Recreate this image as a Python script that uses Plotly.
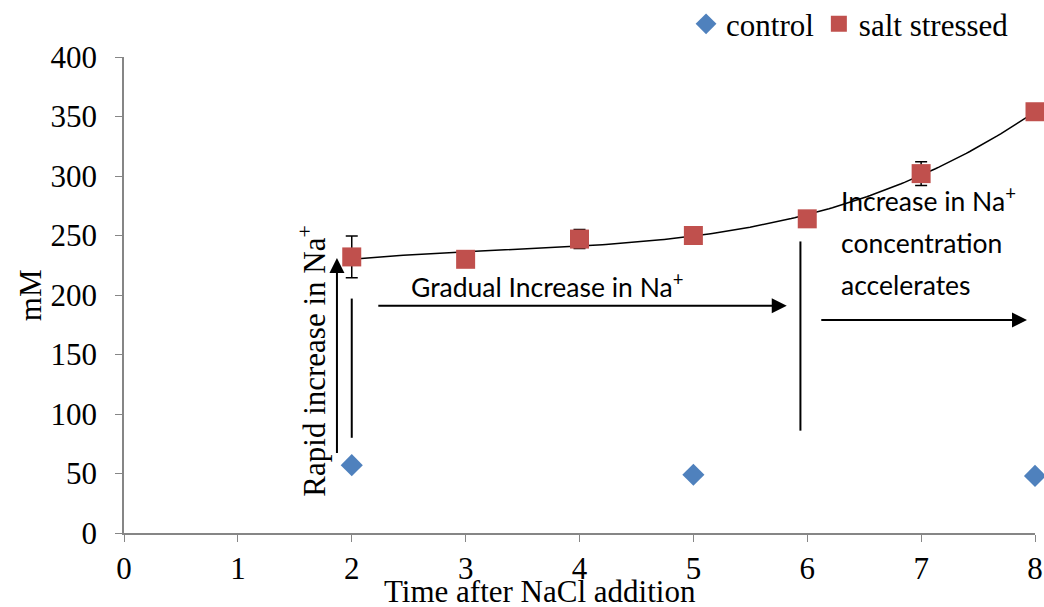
import numpy as np
import plotly.graph_objects as go

# Sodium concentration (mM) after NaCl addition
days_control = [2, 5, 8]
control_mM = [57, 49, 48]
control_err = [3, 2, 1]

days_salt = [2, 3, 4, 5, 6, 7, 8]
salt_mM = [232, 230, 247, 250, 264, 302, 354]
salt_err = [17.5, 1, 8, 2, 2, 10, 2]

x_ticks = [0, 1, 2, 3, 4, 5, 6, 7, 8]
y_ticks = [0, 50, 100, 150, 200, 250, 300, 350, 400]

SERIF = "Liberation Serif"
SANS = "Lato"
BLUE = "#4F81BD"
RED = "#C0504D"
AXIS_GREY = "#868686"

# third-order polynomial trend through the salt-stressed series
coef = np.polyfit(days_salt, salt_mM, 3)
trend_x = np.linspace(min(days_salt), max(days_salt), 200)
trend_y = np.polyval(coef, trend_x)

fig = go.Figure()

fig.add_trace(go.Scatter(
    x=trend_x, y=trend_y, mode="lines",
    line=dict(color="black", width=1.5),
    showlegend=False, hoverinfo="skip",
))

fig.add_trace(go.Scatter(
    x=days_control, y=control_mM, mode="markers", name="control",
    marker=dict(symbol="diamond", size=17, color=BLUE),
    error_y=dict(type="data", array=control_err, color="black", thickness=1.2, width=5),
    cliponaxis=False,
))

fig.add_trace(go.Scatter(
    x=days_salt, y=salt_mM, mode="markers", name="salt stressed",
    marker=dict(symbol="square", size=19, color=RED),
    error_y=dict(type="data", array=salt_err, color="black", thickness=1.5, width=6),
    cliponaxis=False,
))

label_font = dict(family=SANS, size=26.5, color="black")

annotations = [
    # upward arrow: rapid rise
    dict(x=1.87, y=231, ax=1.87, ay=66, xref="x", yref="y", axref="x", ayref="y",
         showarrow=True, arrowhead=2, arrowsize=1.5, arrowwidth=2, arrowcolor="black", text=""),
    dict(x=1.66, y=144, xref="x", yref="y", xanchor="center", yanchor="middle",
         text="Rapid increase in Na<sup>+</sup>",
         textangle=-90, showarrow=False, font=dict(family=SERIF, size=31, color="black")),
    # gradual phase
    dict(x=5.82, y=191, ax=2.22, ay=191, xref="x", yref="y", axref="x", ayref="y",
         showarrow=True, arrowhead=2, arrowsize=1.5, arrowwidth=2, arrowcolor="black", text=""),
    dict(x=2.50, y=208, xref="x", yref="y", xanchor="left", yanchor="middle",
         text="Gradual Increase in Na<sup>+</sup>", showarrow=False, font=label_font),
    # accelerating phase
    dict(x=7.93, y=179, ax=6.11, ay=179, xref="x", yref="y", axref="x", ayref="y",
         showarrow=True, arrowhead=2, arrowsize=1.5, arrowwidth=2, arrowcolor="black", text=""),
    dict(x=6.28, y=280, xref="x", yref="y", xanchor="left", yanchor="middle",
         text="Increase in Na<sup>+</sup>", showarrow=False, font=label_font),
    dict(x=6.28, y=243.5, xref="x", yref="y", xanchor="left", yanchor="middle",
         text="concentration", showarrow=False, font=label_font),
    dict(x=6.28, y=208.5, xref="x", yref="y", xanchor="left", yanchor="middle",
         text="accelerates", showarrow=False, font=label_font),
    # axis titles
    dict(x=0.457, y=-0.122, xref="paper", yref="paper", xanchor="center", yanchor="middle",
         text="Time after NaCl addition",
         showarrow=False, font=dict(family=SERIF, size=31, color="black")),
    dict(x=-0.103, y=0.5, xref="paper", yref="paper", xanchor="center", yanchor="middle",
         text="mM", textangle=-90,
         showarrow=False, font=dict(family=SERIF, size=31, color="black")),
]

shapes = [
    dict(type="line", xref="x", yref="y", x0=2, x1=2, y0=80, y1=197,
         line=dict(color="black", width=2)),
    dict(type="line", xref="x", yref="y", x0=5.94, x1=5.94, y0=86, y1=245,
         line=dict(color="black", width=2)),
]

fig.update_layout(
    width=1044, height=607,
    margin=dict(l=124, r=9, t=57, b=74, autoexpand=False),
    paper_bgcolor="white", plot_bgcolor="white",
    font=dict(family=SERIF, size=31, color="black"),
    annotations=annotations, shapes=shapes,
    legend=dict(orientation="h", x=0.977, xanchor="right",
                y=1.069, yanchor="middle",
                font=dict(family=SERIF, size=31), itemwidth=30, tracegroupgap=0,
                bgcolor="rgba(0,0,0,0)", traceorder="normal"),
)

fig.update_xaxes(
    range=[0, 8], tickvals=x_ticks, showgrid=False, zeroline=False, automargin=False,
    showline=True, linecolor=AXIS_GREY, linewidth=1.5,
    ticks="outside", ticklen=7, tickcolor=AXIS_GREY,
    tickfont=dict(family=SERIF, size=31, color="black"),
)
fig.update_yaxes(
    range=[0, 400], tickvals=y_ticks, showgrid=False, zeroline=False, automargin=False,
    showline=True, linecolor=AXIS_GREY, linewidth=1.5,
    ticks="outside", ticklen=7, tickcolor=AXIS_GREY, ticklabelstandoff=12,
    tickfont=dict(family=SERIF, size=31, color="black"),
)

fig.write_html("out.html")
